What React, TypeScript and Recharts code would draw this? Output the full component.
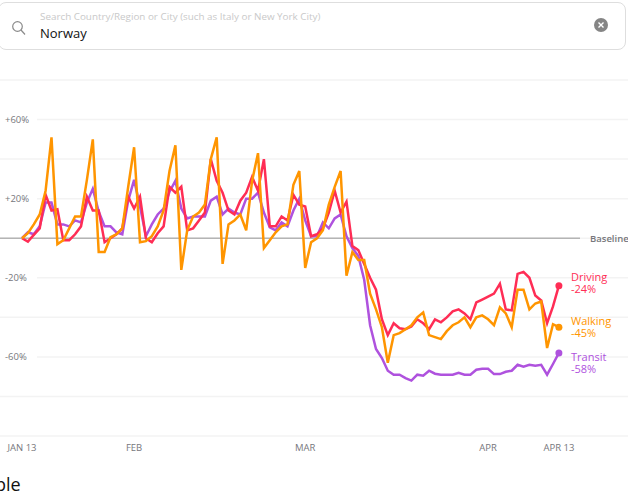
import { CartesianGrid, Line, LineChart, ReferenceLine, XAxis, YAxis } from "recharts";

// days since Jan 13, one reading per day
const driving = [
  0, -1.7, 1.7, 5, 22, 14, 14.6, -1, -1, 2, 6, 21, 14, 14, -2, 0, 2, 5, 21, 15, 21, 0, -2, 2.5, 6, 26, 23, 26, 4, 5, 9, 13,
  40, 29, 23, 14, 12, 19, 23, 31, 24, 40, 6, 6, 11, 9, 22, 17, 16, 1, 2, 5, 13, 24, 13, 18.5, -4, -6, -13, -20, -26, -41,
  -49, -43, -45.5, -46, -44.6, -41, -43, -46, -41, -42.5, -40, -37, -36, -38, -41, -32.5, -31, -29.5, -28, -23, -36, -36.5,
  -18, -17, -20, -29, -31.5, -43, -34.5, -24,
];
const walking = [
  0, 2.5, 7, 12, 24, 51, -3, -1, 5, 11, 11, 29.5, 50, -7, -7, 0.5, 2, 5, 26, 46, -2, -1.5, 1, 6, 14, 34, 47, -16, 4, 11, 13, 17,
  40, 51, -13, 7, 9, 12, 4, 29, 43, -5, -1, 3, 6, 7, 27, 34, -15, -2, 0, 4, 17, 26, 34, -19, -7, -11, -11, -28, -36, -45,
  -63, -49, -48, -46, -44, -40, -37.5, -49, -50, -51, -47, -44, -42.5, -40, -45, -40, -39, -41, -44, -35, -38, -45,
  -26, -26, -36, -33, -32, -55.5, -43.5, -45,
];
const transit = [
  0, 3, 2, 6, 18, 18, 7, 7, 6, 9, 8, 18, 25, 13.5, 6, 6, 3, 2, 19, 29.5, 16, 1, 7, 12, 15, 23.5, 29, 15, 10, 11, 11, 11,
  19, 21, 12, 15, 13, 12, 20, 20, 23, 13, 5.5, 4, 8, 6, 14, 20, 9, 1, 1, 8, 5, 10, 12, 1, -5, -9, -21, -44, -56, -60.6,
  -67, -69, -69, -70.7, -72, -69, -69.5, -67, -68.5, -69, -69, -69, -68, -69, -69, -66.5, -66, -66, -68.7, -68.7, -67.5, -67,
  -64, -65, -64, -64.5, -64, -69, -63.6, -58,
];
const yTicks = [80, 60, 40, 20, 0, -20, -40, -60, -80, -100];
const yLabelled = [60, 20, -20, -60];
const xTicks = [0, 19, 48, 79, 91];
const xLabels = ["JAN 13", "FEB", "MAR", "APR", "APR 13"];

const data = driving.map((d, i) => ({ day: i, driving: d, walking: walking[i], transit: transit[i] }));

const W = 628;
const H = 494;
const DAY_PX = 5.9;
const X0 = 22;
const xMin = -X0 / DAY_PX;
const xMax = (W - X0) / DAY_PX;
const FONT = "'Open Sans', sans-serif";

function YTick({ y, payload }: any) {
  if (!yLabelled.includes(payload.value)) return null;
  const label = payload.value > 0 ? `+${payload.value}%` : `${payload.value}%`;
  return (
    <g>
      <rect x={0} y={y - 3} width={37} height={6} fill="#fff" />
      <text x={5} y={y + 3} fontSize={9.5} fill="#77777c" fontFamily={FONT}>
        {label}
      </text>
    </g>
  );
}

function endDot(color: string, name: string, value: string, labelY: number) {
  return (p: any) => {
    if (p.index !== data.length - 1) return <g key={p.index} />;
    return (
      <g key={p.index}>
        <circle cx={p.cx} cy={p.cy} r={3.5} fill={color} />
        <text fontSize={11} fill={color} fontFamily={FONT}>
          <tspan x={571} y={labelY}>
            {name}
          </tspan>
          <tspan x={571} y={labelY + 12}>
            {value}
          </tspan>
        </text>
      </g>
    );
  };
}

export default function App() {
  return (
    <div style={{ position: "fixed", left: 0, top: 0, width: W, height: H, overflow: "hidden", background: "#fff" }}>
      <div
        style={{
          position: "absolute",
          left: -2,
          top: 2,
          width: 628,
          height: 48,
          boxSizing: "border-box",
          border: "1px solid #dedede",
          borderRadius: 8,
          fontFamily: FONT,
        }}
      >
        <svg width={20} height={20} style={{ position: "absolute", left: 10, top: 15 }}>
          <circle cx={8.5} cy={8.5} r={4.8} fill="none" stroke="#8a8a8a" strokeWidth={1.2} />
          <line x1={12} y1={12} x2={16} y2={16.5} stroke="#8a8a8a" strokeWidth={1.2} />
        </svg>
        <div style={{ position: "absolute", left: 41, top: 6, fontSize: 9.85, color: "#c9c9c9", whiteSpace: "nowrap" }}>
          Search Country/Region or City (such as Italy or New York City)
        </div>
        <div style={{ position: "absolute", left: 41, top: 21, fontSize: 13, color: "#111", whiteSpace: "nowrap" }}>
          Norway
        </div>
        <svg width={16} height={16} style={{ position: "absolute", left: 594, top: 14 }}>
          <circle cx={8} cy={8} r={7} fill="#858585" />
          <path d="M5.5 5.5 L10.5 10.5 M10.5 5.5 L5.5 10.5" stroke="#fff" strokeWidth={1.4} />
        </svg>
      </div>

      <LineChart
        width={W}
        height={H}
        data={data}
        margin={{ top: 80, right: 0, bottom: 0, left: -1 }}
        style={{ position: "absolute", left: 0, top: 0 }}
      >
        <CartesianGrid vertical={false} stroke="#f3f3f3" strokeWidth={1.5} />
        <XAxis
          dataKey="day"
          type="number"
          domain={[xMin, xMax]}
          ticks={xTicks}
          interval={0}
          allowDataOverflow
          axisLine={false}
          tickLine={false}
          height={58}
          tickMargin={2}
          tick={{ fontSize: 9.5, fill: "#77777c", fontFamily: FONT }}
          tickFormatter={(v: number) => xLabels[xTicks.indexOf(v)]}
        />
        <YAxis
          type="number"
          domain={[-100, 80]}
          ticks={yTicks}
          interval={0}
          width={1}
          axisLine={false}
          tickLine={false}
          tick={<YTick />}
        />
        <ReferenceLine
          segment={[
            { x: xMin, y: 0 },
            { x: (580 - X0) / DAY_PX, y: 0 },
          ]}
          stroke="#b4b4b4"
          strokeWidth={1.5}
          label={{ value: "Baseline", position: "right", offset: 10, fontSize: 9.5, fontWeight: 600, fill: "#77777c", fontFamily: FONT }}
        />
        <Line dataKey="transit" stroke="#af52de" strokeWidth={2.5} isAnimationActive={false} dot={endDot("#af52de", "Transit", "-58%", 361)} />
        <Line dataKey="driving" stroke="#ff2d55" strokeWidth={2.5} isAnimationActive={false} dot={endDot("#ff2d55", "Driving", "-24%", 281)} />
        <Line dataKey="walking" stroke="#ff9500" strokeWidth={2.5} isAnimationActive={false} dot={endDot("#ff9500", "Walking", "-45%", 325)} />
      </LineChart>

      <div style={{ position: "absolute", left: -25, top: 472, fontSize: 18, color: "#111", fontFamily: FONT }}>Table</div>
    </div>
  );
}
